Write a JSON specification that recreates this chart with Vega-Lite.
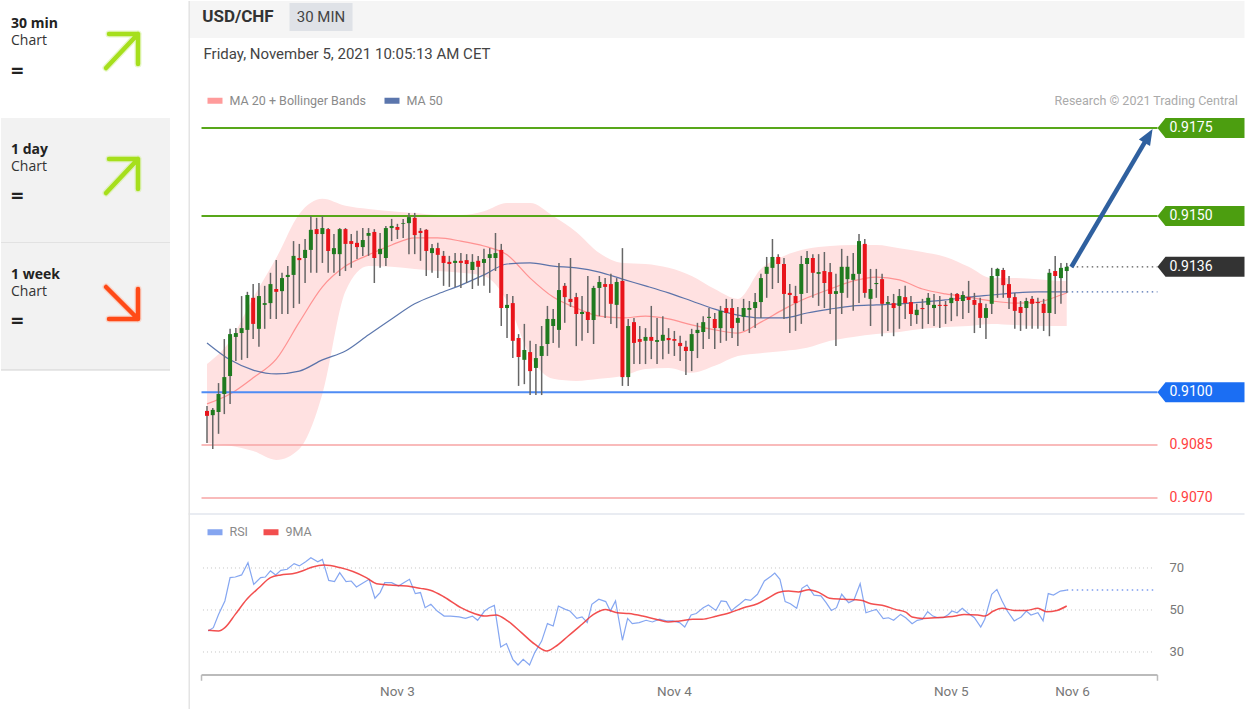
{
"$schema": "https://vega.github.io/schema/vega-lite/v6.json",
"background": "white",
"padding": 0,
"spacing": 16.5,
"bounds": "full",
"config": {"view": {"stroke": null}, "font": "Roboto", "scale": {"continuousPadding": 0}},
"resolve": {"scale": {"color": "independent"}, "legend": {"color": "independent"}},
"datasets": {
"candles": [
{"i":0,"o":0.90947,"h":0.90961,"l":0.90856,"c":0.90933},
{"i":1,"o":0.90935,"h":0.90955,"l":0.90839,"c":0.9095},
{"i":2,"o":0.90944,"h":0.91026,"l":0.90882,"c":0.90995},
{"i":3,"o":0.90995,"h":0.91151,"l":0.90938,"c":0.91043},
{"i":4,"o":0.91046,"h":0.9118,"l":0.90967,"c":0.91165},
{"i":5,"o":0.91157,"h":0.91182,"l":0.91089,"c":0.91168},
{"i":6,"o":0.91168,"h":0.91273,"l":0.91092,"c":0.91182},
{"i":7,"o":0.91177,"h":0.91285,"l":0.91097,"c":0.91276},
{"i":8,"o":0.91268,"h":0.91307,"l":0.91151,"c":0.91194},
{"i":9,"o":0.9118,"h":0.9131,"l":0.91129,"c":0.91273},
{"i":10,"o":0.91248,"h":0.91302,"l":0.9118,"c":0.91253},
{"i":11,"o":0.91253,"h":0.91339,"l":0.91208,"c":0.91307},
{"i":12,"o":0.91293,"h":0.91375,"l":0.91208,"c":0.91285},
{"i":13,"o":0.91287,"h":0.91339,"l":0.91222,"c":0.91324},
{"i":14,"o":0.91327,"h":0.91358,"l":0.91222,"c":0.91333},
{"i":15,"o":0.91333,"h":0.91429,"l":0.91239,"c":0.91387},
{"i":16,"o":0.91381,"h":0.91421,"l":0.91251,"c":0.91375},
{"i":17,"o":0.91381,"h":0.91435,"l":0.9131,"c":0.91404},
{"i":18,"o":0.91404,"h":0.915,"l":0.91339,"c":0.91461},
{"i":19,"o":0.91463,"h":0.91495,"l":0.91339,"c":0.91449},
{"i":20,"o":0.91449,"h":0.915,"l":0.91367,"c":0.91466},
{"i":21,"o":0.91463,"h":0.91466,"l":0.91339,"c":0.91401},
{"i":22,"o":0.91392,"h":0.91449,"l":0.91339,"c":0.91409},
{"i":23,"o":0.91392,"h":0.91466,"l":0.9133,"c":0.91463},
{"i":24,"o":0.91463,"h":0.91466,"l":0.91344,"c":0.91421},
{"i":25,"o":0.91429,"h":0.91449,"l":0.91353,"c":0.91421},
{"i":26,"o":0.91424,"h":0.91458,"l":0.91378,"c":0.91412},
{"i":27,"o":0.91412,"h":0.91466,"l":0.91387,"c":0.91432},
{"i":28,"o":0.91444,"h":0.91466,"l":0.91387,"c":0.91452},
{"i":29,"o":0.91455,"h":0.91463,"l":0.9131,"c":0.91381},
{"i":30,"o":0.91392,"h":0.91452,"l":0.91353,"c":0.91407},
{"i":31,"o":0.91381,"h":0.91472,"l":0.91358,"c":0.91466},
{"i":32,"o":0.91466,"h":0.91492,"l":0.91429,"c":0.91472},
{"i":33,"o":0.91469,"h":0.91478,"l":0.91435,"c":0.91461},
{"i":34,"o":0.91478,"h":0.91492,"l":0.91438,"c":0.9148},
{"i":35,"o":0.9148,"h":0.91509,"l":0.91392,"c":0.91497},
{"i":36,"o":0.91495,"h":0.91509,"l":0.91392,"c":0.91446},
{"i":37,"o":0.91458,"h":0.91466,"l":0.91373,"c":0.91452},
{"i":38,"o":0.91461,"h":0.91463,"l":0.9133,"c":0.91401},
{"i":39,"o":0.91395,"h":0.91421,"l":0.91339,"c":0.91409},
{"i":40,"o":0.91409,"h":0.91424,"l":0.91324,"c":0.9139},
{"i":41,"o":0.91387,"h":0.91401,"l":0.91302,"c":0.91367},
{"i":42,"o":0.9137,"h":0.91387,"l":0.91299,"c":0.91364},
{"i":43,"o":0.91367,"h":0.91395,"l":0.91299,"c":0.91373},
{"i":44,"o":0.91373,"h":0.91395,"l":0.91296,"c":0.91367},
{"i":45,"o":0.91375,"h":0.91392,"l":0.9131,"c":0.91364},
{"i":46,"o":0.91347,"h":0.91392,"l":0.91293,"c":0.9137},
{"i":47,"o":0.91373,"h":0.91387,"l":0.91302,"c":0.91356},
{"i":48,"o":0.91367,"h":0.91407,"l":0.91302,"c":0.91378},
{"i":49,"o":0.91381,"h":0.91409,"l":0.91282,"c":0.91392},
{"i":50,"o":0.91381,"h":0.91452,"l":0.91344,"c":0.91395},
{"i":51,"o":0.91404,"h":0.91421,"l":0.91188,"c":0.91239},
{"i":52,"o":0.91239,"h":0.91279,"l":0.91154,"c":0.91248},
{"i":53,"o":0.91253,"h":0.91273,"l":0.91097,"c":0.91146},
{"i":54,"o":0.91154,"h":0.91165,"l":0.91018,"c":0.911},
{"i":55,"o":0.91092,"h":0.91194,"l":0.91023,"c":0.9112},
{"i":56,"o":0.91114,"h":0.91146,"l":0.90992,"c":0.9106},
{"i":57,"o":0.91069,"h":0.91137,"l":0.90992,"c":0.91097},
{"i":58,"o":0.91103,"h":0.91188,"l":0.90992,"c":0.91131},
{"i":59,"o":0.91137,"h":0.91245,"l":0.91103,"c":0.91208},
{"i":60,"o":0.91188,"h":0.91236,"l":0.9114,"c":0.91208},
{"i":61,"o":0.91177,"h":0.91367,"l":0.91126,"c":0.9129},
{"i":62,"o":0.91302,"h":0.9131,"l":0.91197,"c":0.9127},
{"i":63,"o":0.91265,"h":0.91381,"l":0.91242,"c":0.91256},
{"i":64,"o":0.9127,"h":0.91282,"l":0.91131,"c":0.91222},
{"i":65,"o":0.91222,"h":0.91273,"l":0.91146,"c":0.91228},
{"i":66,"o":0.91228,"h":0.9133,"l":0.91168,"c":0.91205},
{"i":67,"o":0.91205,"h":0.91302,"l":0.91137,"c":0.91296},
{"i":68,"o":0.91296,"h":0.9133,"l":0.91216,"c":0.91313},
{"i":69,"o":0.91307,"h":0.91324,"l":0.91211,"c":0.91299},
{"i":70,"o":0.91307,"h":0.91336,"l":0.91194,"c":0.91251},
{"i":71,"o":0.91248,"h":0.91324,"l":0.91182,"c":0.91313},
{"i":72,"o":0.91316,"h":0.91409,"l":0.91018,"c":0.91043},
{"i":73,"o":0.91043,"h":0.91208,"l":0.91018,"c":0.91188},
{"i":74,"o":0.91199,"h":0.91211,"l":0.9108,"c":0.9114},
{"i":75,"o":0.91151,"h":0.91188,"l":0.9108,"c":0.91143},
{"i":76,"o":0.91146,"h":0.91182,"l":0.9108,"c":0.91157},
{"i":77,"o":0.91157,"h":0.91245,"l":0.91094,"c":0.91146},
{"i":78,"o":0.91143,"h":0.91211,"l":0.9108,"c":0.91148},
{"i":79,"o":0.91146,"h":0.91216,"l":0.91094,"c":0.91163},
{"i":80,"o":0.91154,"h":0.91182,"l":0.91109,"c":0.91148},
{"i":81,"o":0.91151,"h":0.91174,"l":0.91103,"c":0.91146},
{"i":82,"o":0.9114,"h":0.9116,"l":0.91089,"c":0.91131},
{"i":83,"o":0.91129,"h":0.91146,"l":0.91049,"c":0.91117},
{"i":84,"o":0.91117,"h":0.9118,"l":0.9106,"c":0.91165},
{"i":85,"o":0.91168,"h":0.91197,"l":0.91097,"c":0.91177},
{"i":86,"o":0.91171,"h":0.91216,"l":0.91123,"c":0.91199},
{"i":87,"o":0.91211,"h":0.91239,"l":0.91151,"c":0.91214},
{"i":88,"o":0.91208,"h":0.91225,"l":0.91123,"c":0.91182},
{"i":89,"o":0.91182,"h":0.91245,"l":0.9114,"c":0.91231},
{"i":90,"o":0.91239,"h":0.91265,"l":0.91146,"c":0.91225},
{"i":91,"o":0.91239,"h":0.91265,"l":0.91154,"c":0.91182},
{"i":92,"o":0.91197,"h":0.91242,"l":0.91131,"c":0.91211},
{"i":93,"o":0.91214,"h":0.91265,"l":0.91174,"c":0.91239},
{"i":94,"o":0.91234,"h":0.91259,"l":0.91168,"c":0.91239},
{"i":95,"o":0.91239,"h":0.91282,"l":0.91182,"c":0.91256},
{"i":96,"o":0.91256,"h":0.91336,"l":0.91211,"c":0.91324},
{"i":97,"o":0.91336,"h":0.91384,"l":0.91268,"c":0.91356},
{"i":98,"o":0.91353,"h":0.91435,"l":0.91293,"c":0.91384},
{"i":99,"o":0.91384,"h":0.91392,"l":0.9131,"c":0.91364},
{"i":100,"o":0.91364,"h":0.91381,"l":0.91208,"c":0.91279},
{"i":101,"o":0.91282,"h":0.91307,"l":0.91168,"c":0.91276},
{"i":102,"o":0.91273,"h":0.91302,"l":0.91174,"c":0.91253},
{"i":103,"o":0.91279,"h":0.91387,"l":0.91194,"c":0.91364},
{"i":104,"o":0.91364,"h":0.91401,"l":0.91282,"c":0.91381},
{"i":105,"o":0.91381,"h":0.91392,"l":0.91268,"c":0.91339},
{"i":106,"o":0.91336,"h":0.91392,"l":0.91245,"c":0.91341},
{"i":107,"o":0.91344,"h":0.91398,"l":0.91239,"c":0.9131},
{"i":108,"o":0.91341,"h":0.91367,"l":0.91222,"c":0.91279},
{"i":109,"o":0.91279,"h":0.91336,"l":0.91131,"c":0.91287},
{"i":110,"o":0.91282,"h":0.91407,"l":0.91222,"c":0.91356},
{"i":111,"o":0.91321,"h":0.91387,"l":0.91268,"c":0.91356},
{"i":112,"o":0.91319,"h":0.91395,"l":0.91231,"c":0.91336},
{"i":113,"o":0.91336,"h":0.91449,"l":0.91253,"c":0.91429},
{"i":114,"o":0.91421,"h":0.91435,"l":0.91268,"c":0.91282},
{"i":115,"o":0.91265,"h":0.9135,"l":0.91188,"c":0.91293},
{"i":116,"o":0.91307,"h":0.9135,"l":0.91268,"c":0.9131},
{"i":117,"o":0.91321,"h":0.91336,"l":0.91159,"c":0.91251},
{"i":118,"o":0.91251,"h":0.91273,"l":0.91174,"c":0.91256},
{"i":119,"o":0.91253,"h":0.91279,"l":0.91159,"c":0.91239},
{"i":120,"o":0.91245,"h":0.91293,"l":0.9118,"c":0.91273},
{"i":121,"o":0.9127,"h":0.91302,"l":0.91208,"c":0.91253},
{"i":122,"o":0.91256,"h":0.91273,"l":0.91188,"c":0.91222},
{"i":123,"o":0.91219,"h":0.91251,"l":0.91194,"c":0.91234},
{"i":124,"o":0.91239,"h":0.91265,"l":0.9118,"c":0.91236},
{"i":125,"o":0.91248,"h":0.91282,"l":0.91194,"c":0.91268},
{"i":126,"o":0.91239,"h":0.91279,"l":0.91188,"c":0.91248},
{"i":127,"o":0.91248,"h":0.91273,"l":0.91182,"c":0.91245},
{"i":128,"o":0.91248,"h":0.91259,"l":0.91194,"c":0.91245},
{"i":129,"o":0.91253,"h":0.91282,"l":0.91202,"c":0.91268},
{"i":130,"o":0.91279,"h":0.91282,"l":0.91216,"c":0.91259},
{"i":131,"o":0.91259,"h":0.91287,"l":0.91208,"c":0.91276},
{"i":132,"o":0.9127,"h":0.91316,"l":0.91225,"c":0.91262},
{"i":133,"o":0.91262,"h":0.91282,"l":0.91168,"c":0.91248},
{"i":134,"o":0.91253,"h":0.91268,"l":0.91182,"c":0.91211},
{"i":135,"o":0.91211,"h":0.91251,"l":0.91151,"c":0.91239},
{"i":136,"o":0.91251,"h":0.91353,"l":0.91222,"c":0.9133},
{"i":137,"o":0.9133,"h":0.91353,"l":0.91268,"c":0.9135},
{"i":138,"o":0.91347,"h":0.91353,"l":0.91268,"c":0.91304},
{"i":139,"o":0.91307,"h":0.9133,"l":0.91236,"c":0.91268},
{"i":140,"o":0.9127,"h":0.91282,"l":0.9118,"c":0.91231},
{"i":141,"o":0.91242,"h":0.91259,"l":0.91174,"c":0.91225},
{"i":142,"o":0.91239,"h":0.91268,"l":0.9118,"c":0.91259},
{"i":143,"o":0.91265,"h":0.91273,"l":0.9118,"c":0.91251},
{"i":144,"o":0.91256,"h":0.91268,"l":0.9118,"c":0.91253},
{"i":145,"o":0.91251,"h":0.91265,"l":0.91174,"c":0.91225},
{"i":146,"o":0.91225,"h":0.9135,"l":0.91159,"c":0.91339},
{"i":147,"o":0.91344,"h":0.91387,"l":0.91222,"c":0.9133},
{"i":148,"o":0.91324,"h":0.91367,"l":0.91251,"c":0.91353},
{"i":149,"o":0.91344,"h":0.91367,"l":0.91282,"c":0.91356}
],
"ind": [
{"i":0,"ma20":0.90967,"ma50":0.9114,"up":0.9108,"lo":0.90856},
{"i":4,"ma20":0.90995,"ma50":0.91092,"up":0.91146,"lo":0.90848},
{"i":8,"ma20":0.91041,"ma50":0.91063,"up":0.91268,"lo":0.90833},
{"i":12,"ma20":0.91094,"ma50":0.91052,"up":0.91381,"lo":0.90808},
{"i":16,"ma20":0.91199,"ma50":0.9106,"up":0.91506,"lo":0.90839},
{"i":20,"ma20":0.91299,"ma50":0.91092,"up":0.91549,"lo":0.90995},
{"i":24,"ma20":0.91358,"ma50":0.91117,"up":0.91529,"lo":0.91287},
{"i":28,"ma20":0.9139,"ma50":0.91163,"up":0.9152,"lo":0.91358},
{"i":32,"ma20":0.91418,"ma50":0.91208,"up":0.91514,"lo":0.91356},
{"i":36,"ma20":0.91438,"ma50":0.91251,"up":0.91509,"lo":0.9135},
{"i":40,"ma20":0.91438,"ma50":0.91279,"up":0.91503,"lo":0.91344},
{"i":44,"ma20":0.91429,"ma50":0.91304,"up":0.91503,"lo":0.91339},
{"i":48,"ma20":0.91415,"ma50":0.91333,"up":0.91514,"lo":0.9133},
{"i":52,"ma20":0.9139,"ma50":0.91364,"up":0.91537,"lo":0.91259},
{"i":56,"ma20":0.91324,"ma50":0.91367,"up":0.91537,"lo":0.91103},
{"i":60,"ma20":0.9127,"ma50":0.91358,"up":0.915,"lo":0.91038},
{"i":64,"ma20":0.91239,"ma50":0.91353,"up":0.91455,"lo":0.91032},
{"i":68,"ma20":0.91216,"ma50":0.91341,"up":0.91395,"lo":0.91038},
{"i":72,"ma20":0.91211,"ma50":0.91321,"up":0.91367,"lo":0.91046},
{"i":76,"ma20":0.91216,"ma50":0.91302,"up":0.91364,"lo":0.91066},
{"i":80,"ma20":0.91208,"ma50":0.91282,"up":0.91353,"lo":0.91069},
{"i":84,"ma20":0.91191,"ma50":0.91259,"up":0.9133,"lo":0.91055},
{"i":88,"ma20":0.91177,"ma50":0.91236,"up":0.91293,"lo":0.91075},
{"i":92,"ma20":0.91168,"ma50":0.91219,"up":0.91265,"lo":0.91103},
{"i":96,"ma20":0.91199,"ma50":0.91211,"up":0.9135,"lo":0.91111},
{"i":100,"ma20":0.91236,"ma50":0.91211,"up":0.91387,"lo":0.91117},
{"i":104,"ma20":0.91268,"ma50":0.91225,"up":0.91407,"lo":0.91126},
{"i":108,"ma20":0.91293,"ma50":0.91236,"up":0.91415,"lo":0.91146},
{"i":112,"ma20":0.91316,"ma50":0.91245,"up":0.91418,"lo":0.91157},
{"i":116,"ma20":0.91327,"ma50":0.91248,"up":0.91418,"lo":0.91165},
{"i":120,"ma20":0.91319,"ma50":0.91251,"up":0.91409,"lo":0.91171},
{"i":124,"ma20":0.91293,"ma50":0.91256,"up":0.91398,"lo":0.9118},
{"i":128,"ma20":0.91279,"ma50":0.91262,"up":0.91384,"lo":0.91185},
{"i":132,"ma20":0.9127,"ma50":0.9127,"up":0.91356,"lo":0.91188},
{"i":136,"ma20":0.91259,"ma50":0.91276,"up":0.91324,"lo":0.91194},
{"i":140,"ma20":0.91253,"ma50":0.91282,"up":0.91324,"lo":0.91191},
{"i":144,"ma20":0.91256,"ma50":0.91285,"up":0.91321,"lo":0.91188},
{"i":148,"ma20":0.91276,"ma50":0.91285,"up":0.91316,"lo":0.91188},
{"i":149,"ma20":0.91282,"ma50":0.91285,"up":0.91316,"lo":0.91188}
],
"levels": [
{"level":0.9175,"role":"target"},
{"level":0.915,"role":"target"},
{"level":0.91,"role":"pivot"},
{"level":0.9085,"role":"support"},
{"level":0.907,"role":"support"}
],
"forecast": [
{"i":149.8,"p":0.913555},
{"i":163.0,"p":0.917227}
],
"rsi": [
{"i":0.2,"v":40.0},{"i":1.1,"v":41.6},{"i":2.0,"v":47.9},{"i":3.1,"v":54.3},{"i":4.0,"v":65.4},{"i":4.9,"v":65.7},{"i":6.0,"v":66.7},{"i":7.1,"v":72.5},{"i":8.1,"v":62.2},{"i":9.3,"v":65.4},{"i":10.1,"v":65.7},{"i":11.0,"v":68.6},{"i":11.9,"v":66.7},{"i":12.8,"v":68.9},{"i":13.9,"v":69.4},{"i":15.1,"v":72.1},{"i":16.0,"v":71.0},{"i":17.1,"v":73.0},{"i":18.0,"v":74.9},{"i":19.2,"v":73.0},{"i":20.0,"v":74.1},{"i":21.1,"v":64.1},{"i":22.1,"v":63.5},{"i":23.0,"v":67.8},{"i":24.1,"v":63.5},{"i":25.0,"v":63.8},{"i":25.9,"v":61.0},{"i":27.1,"v":63.0},{"i":28.1,"v":64.6},{"i":29.1,"v":55.6},{"i":30.0,"v":58.3},{"i":30.8,"v":63.0},{"i":32.0,"v":63.0},{"i":33.2,"v":61.4},{"i":34.1,"v":63.0},{"i":35.1,"v":64.6},{"i":36.1,"v":57.8},{"i":37.0,"v":58.3},{"i":37.8,"v":51.1},{"i":38.8,"v":52.7},{"i":39.9,"v":49.5},{"i":41.1,"v":47.1},{"i":42.2,"v":47.1},{"i":43.7,"v":46.7},{"i":44.8,"v":46.0},{"i":46.0,"v":47.1},{"i":46.9,"v":45.1},{"i":48.1,"v":49.5},{"i":48.9,"v":51.1},{"i":49.8,"v":52.2},{"i":50.9,"v":32.4},{"i":51.9,"v":34.0},{"i":53.0,"v":26.5},{"i":53.9,"v":23.8},{"i":54.8,"v":26.5},{"i":55.9,"v":23.8},{"i":56.8,"v":29.7},{"i":58.0,"v":35.2},{"i":59.0,"v":43.5},{"i":60.0,"v":42.4},{"i":60.9,"v":51.9},{"i":62.1,"v":50.3},{"i":62.9,"v":49.5},{"i":64.1,"v":46.0},{"i":65.0,"v":46.7},{"i":65.9,"v":44.0},{"i":66.7,"v":52.7},{"i":67.9,"v":55.1},{"i":69.1,"v":54.0},{"i":69.9,"v":49.5},{"i":70.8,"v":54.3},{"i":72.0,"v":35.6},{"i":72.9,"v":46.0},{"i":73.7,"v":43.5},{"i":74.9,"v":44.0},{"i":76.1,"v":45.1},{"i":77.2,"v":44.3},{"i":78.4,"v":45.6},{"i":79.6,"v":44.8},{"i":80.7,"v":44.8},{"i":81.9,"v":44.0},{"i":82.8,"v":41.9},{"i":83.9,"v":47.6},{"i":84.8,"v":48.3},{"i":86.0,"v":51.1},{"i":86.9,"v":52.4},{"i":88.2,"v":49.8},{"i":89.1,"v":54.3},{"i":90.0,"v":54.0},{"i":90.9,"v":49.5},{"i":91.5,"v":51.1},{"i":92.4,"v":53.0},{"i":93.3,"v":55.1},{"i":94.2,"v":54.6},{"i":95.4,"v":57.5},{"i":96.6,"v":63.8},{"i":97.8,"v":66.2},{"i":98.4,"v":67.6},{"i":99.3,"v":64.6},{"i":100.2,"v":54.0},{"i":101.1,"v":53.0},{"i":102.2,"v":50.8},{"i":103.1,"v":60.3},{"i":104.0,"v":61.9},{"i":105.2,"v":57.1},{"i":106.4,"v":56.7},{"i":107.3,"v":53.5},{"i":108.2,"v":49.8},{"i":109.1,"v":51.1},{"i":110.0,"v":57.5},{"i":111.2,"v":53.5},{"i":112.1,"v":54.6},{"i":113.2,"v":62.5},{"i":114.2,"v":48.7},{"i":115.1,"v":49.5},{"i":116.0,"v":50.3},{"i":117.2,"v":45.9},{"i":118.1,"v":46.3},{"i":119.0,"v":45.1},{"i":120.2,"v":47.9},{"i":121.1,"v":46.3},{"i":122.2,"v":43.5},{"i":123.1,"v":45.1},{"i":124.0,"v":45.6},{"i":124.9,"v":49.2},{"i":125.8,"v":47.1},{"i":126.7,"v":46.3},{"i":127.6,"v":46.3},{"i":128.5,"v":47.9},{"i":129.1,"v":49.5},{"i":130.0,"v":48.7},{"i":130.9,"v":50.8},{"i":131.8,"v":48.7},{"i":133.0,"v":46.3},{"i":134.1,"v":41.9},{"i":134.8,"v":45.6},{"i":136.0,"v":57.5},{"i":136.9,"v":59.8},{"i":137.8,"v":54.3},{"i":138.7,"v":49.5},{"i":139.9,"v":44.8},{"i":141.1,"v":46.7},{"i":142.0,"v":49.5},{"i":142.8,"v":47.6},{"i":144.0,"v":48.7},{"i":144.9,"v":44.8},{"i":145.8,"v":57.8},{"i":146.7,"v":57.1},{"i":147.9,"v":59.0},{"i":149,"v":59.5}
],
"ma9": [
{"i":0.2,"v":40.3},{"i":2.0,"v":40.0},{"i":3.1,"v":41.6},{"i":4.9,"v":47.9},{"i":6.9,"v":55.1},{"i":9.0,"v":60.6},{"i":11.0,"v":65.4},{"i":12.8,"v":66.7},{"i":14.8,"v":67.3},{"i":16.5,"v":68.6},{"i":18.3,"v":70.5},{"i":20.3,"v":71.4},{"i":23.0,"v":70.2},{"i":25.3,"v":68.3},{"i":27.6,"v":65.4},{"i":29.4,"v":62.5},{"i":31.7,"v":61.9},{"i":34.6,"v":61.4},{"i":37.0,"v":60.3},{"i":38.7,"v":59.4},{"i":41.1,"v":56.2},{"i":44.0,"v":51.1},{"i":46.3,"v":48.3},{"i":48.1,"v":47.1},{"i":50.1,"v":47.6},{"i":52.1,"v":44.8},{"i":54.5,"v":39.2},{"i":56.8,"v":33.7},{"i":58.9,"v":30.5},{"i":60.3,"v":32.4},{"i":62.6,"v":37.6},{"i":65.0,"v":43.2},{"i":67.0,"v":47.9},{"i":69.1,"v":50.2},{"i":71.1,"v":48.7},{"i":73.1,"v":48.3},{"i":75.5,"v":47.1},{"i":77.8,"v":45.6},{"i":79.9,"v":44.3},{"i":81.9,"v":44.8},{"i":84.2,"v":45.6},{"i":85.8,"v":45.6},{"i":88.2,"v":47.0},{"i":90.6,"v":48.7},{"i":93.0,"v":51.1},{"i":95.4,"v":53.0},{"i":97.2,"v":55.6},{"i":99.0,"v":58.3},{"i":100.8,"v":59.0},{"i":102.5,"v":58.6},{"i":104.3,"v":59.7},{"i":106.1,"v":58.3},{"i":107.9,"v":55.6},{"i":110.3,"v":55.1},{"i":113.3,"v":54.6},{"i":115.1,"v":53.0},{"i":117.5,"v":51.9},{"i":119.3,"v":50.3},{"i":121.1,"v":49.0},{"i":122.2,"v":46.7},{"i":124.0,"v":46.0},{"i":126.4,"v":46.3},{"i":129.7,"v":47.1},{"i":131.2,"v":47.9},{"i":133.6,"v":47.6},{"i":134.8,"v":47.1},{"i":136.3,"v":49.5},{"i":137.8,"v":50.8},{"i":139.9,"v":49.8},{"i":142.0,"v":49.8},{"i":144.0,"v":50.8},{"i":145.5,"v":49.2},{"i":147.3,"v":49.8},{"i":149,"v":51.9}
],
"grid": [{"v":70},{"v":50},{"v":30}],
"days": [{"day":"Nov 3","i":33},{"day":"Nov 4","i":81},{"day":"Nov 5","i":129},{"day":"Nov 6","i":150}]
},
"hconcat": [
{
"vconcat": [
{
"width": 169, "height": 117,
"data": {"values": [{"period": "30 min", "trend": "up"}]},
"layer": [
{"mark": {"type": "text", "align": "left", "baseline": "middle", "dx": -74.5, "dy": -35.5, "font": "Open Sans", "fontWeight": "bold", "fontSize": 14, "fill": "#222"}, "encoding": {"text": {"field": "period"}}},
{"mark": {"type": "text", "align": "left", "baseline": "middle", "dx": -74.5, "dy": -18.5, "font": "Open Sans", "fontSize": 14, "fill": "#333"}, "encoding": {"text": {"value": "Chart"}}},
{"mark": {"type": "text", "align": "left", "baseline": "middle", "dx": -74.5, "dy": 11, "font": "Open Sans", "fontWeight": "bold", "fontSize": 22, "fill": "#222"}, "encoding": {"text": {"value": "="}}},
{"mark": {"type": "point", "filled": false, "shape": "M1.025,0.425L2.625,-1.275M1.175,-1.275L2.625,-1.275L2.625,0.225", "size": 1600, "strokeWidth": 7, "strokeCap": "round", "strokeJoin": "round", "opacity": 0.45}, "encoding": {"color": {"condition": {"test": "datum.trend === 'up'", "value": "#cdee8a"}, "value": "#ffb39a"}}},
{"mark": {"type": "point", "filled": false, "shape": "M1.025,0.425L2.625,-1.275M1.175,-1.275L2.625,-1.275L2.625,0.225", "size": 1600, "strokeWidth": 4.5, "strokeCap": "round", "strokeJoin": "round", "opacity": 1}, "encoding": {"color": {"condition": {"test": "datum.trend === 'up'", "value": "#a6df1c"}, "value": "#ff4a17"}}}
]
},
{
"width": 169, "height": 125,
"view": {"fill": "#f2f2f2"},
"data": {"values": [{"period": "1 day", "trend": "up"}]},
"layer": [
{"mark": {"type": "text", "align": "left", "baseline": "middle", "dx": -74.5, "dy": -31, "font": "Open Sans", "fontWeight": "bold", "fontSize": 14, "fill": "#222"}, "encoding": {"text": {"field": "period"}}},
{"mark": {"type": "text", "align": "left", "baseline": "middle", "dx": -74.5, "dy": -13.8, "font": "Open Sans", "fontSize": 14, "fill": "#333"}, "encoding": {"text": {"value": "Chart"}}},
{"mark": {"type": "text", "align": "left", "baseline": "middle", "dx": -74.5, "dy": 15, "font": "Open Sans", "fontWeight": "bold", "fontSize": 22, "fill": "#222"}, "encoding": {"text": {"value": "="}}},
{"mark": {"type": "point", "filled": false, "shape": "M1.025,0.625L2.625,-1.075M1.175,-1.075L2.625,-1.075L2.625,0.425", "size": 1600, "strokeWidth": 7, "strokeCap": "round", "strokeJoin": "round", "opacity": 0.45}, "encoding": {"color": {"condition": {"test": "datum.trend === 'up'", "value": "#cdee8a"}, "value": "#ffb39a"}}},
{"mark": {"type": "point", "filled": false, "shape": "M1.025,0.625L2.625,-1.075M1.175,-1.075L2.625,-1.075L2.625,0.425", "size": 1600, "strokeWidth": 4.5, "strokeCap": "round", "strokeJoin": "round", "opacity": 1}, "encoding": {"color": {"condition": {"test": "datum.trend === 'up'", "value": "#a6df1c"}, "value": "#ff4a17"}}},
{"mark": {"type": "rule", "stroke": "#d2d2d2", "strokeWidth": 1}, "encoding": {"y": {"datum": 0, "type": "quantitative", "scale": {"domain": [0, 1]}, "axis": null}}}
]
},
{
"width": 169, "height": 127,
"view": {"fill": "#f2f2f2"},
"data": {"values": [{"period": "1 week", "trend": "down"}]},
"layer": [
{"mark": {"type": "text", "align": "left", "baseline": "middle", "dx": -74.5, "dy": -31.5, "font": "Open Sans", "fontWeight": "bold", "fontSize": 14, "fill": "#222"}, "encoding": {"text": {"field": "period"}}},
{"mark": {"type": "text", "align": "left", "baseline": "middle", "dx": -74.5, "dy": -14.5, "font": "Open Sans", "fontSize": 14, "fill": "#333"}, "encoding": {"text": {"value": "Chart"}}},
{"mark": {"type": "text", "align": "left", "baseline": "middle", "dx": -74.5, "dy": 14.5, "font": "Open Sans", "fontWeight": "bold", "fontSize": 22, "fill": "#222"}, "encoding": {"text": {"value": "="}}},
{"mark": {"type": "point", "filled": false, "shape": "M1.025,-0.975L2.625,0.625M1.175,0.625L2.625,0.625M2.625,-0.875L2.625,0.625", "size": 1600, "strokeWidth": 7, "strokeCap": "round", "strokeJoin": "round", "opacity": 0.45}, "encoding": {"color": {"condition": {"test": "datum.trend === 'up'", "value": "#cdee8a"}, "value": "#ffb39a"}}},
{"mark": {"type": "point", "filled": false, "shape": "M1.025,-0.975L2.625,0.625M1.175,0.625L2.625,0.625M2.625,-0.875L2.625,0.625", "size": 1600, "strokeWidth": 4.5, "strokeCap": "round", "strokeJoin": "round", "opacity": 1}, "encoding": {"color": {"condition": {"test": "datum.trend === 'up'", "value": "#a6df1c"}, "value": "#ff4a17"}}},
{"mark": {"type": "rule", "stroke": "#d2d2d2", "strokeWidth": 1}, "encoding": {"y": {"datum": 0, "type": "quantitative", "scale": {"domain": [0, 1]}, "axis": null}}}
]
}
],
"spacing": 0,
"bounds": "flush"
},
{
"vconcat": [
{
"width": 1056, "height": 512,
"data": {"values": [{}]},
"layer": [
{"mark": {"type": "rect", "fill": "#f5f5f5"}, "encoding": {"y": {"datum": 0.921104, "type": "quantitative", "scale": {"domain": [0.906573, 0.921104], "nice": false, "zero": false, "padding": 0}, "axis": null}, "y2": {"datum": 0.920054}}},
{"mark": {"type": "rect", "fill": "#dfe2e7"}, "encoding": {"x": {"datum": 14.3, "type": "quantitative", "scale": {"domain": [-3.206, 179.81], "nice": false, "zero": false, "padding": 0}, "axis": null}, "x2": {"datum": 25.22}, "y": {"datum": 0.921047, "type": "quantitative", "scale": {"domain": [0.906573, 0.921104], "nice": false, "zero": false, "padding": 0}, "axis": null}, "y2": {"datum": 0.920253}}},
{"mark": {"type": "text", "align": "left", "baseline": "middle", "fontWeight": "bold", "fontSize": 17, "fill": "#333"}, "encoding": {"text": {"value": "USD/CHF"}, "x": {"datum": -0.83, "type": "quantitative", "scale": {"domain": [-3.206, 179.81], "nice": false, "zero": false, "padding": 0}, "axis": null}, "y": {"datum": 0.920664, "type": "quantitative", "scale": {"domain": [0.906573, 0.921104], "nice": false, "zero": false, "padding": 0}, "axis": null}}},
{"mark": {"type": "text", "align": "center", "baseline": "middle", "fontSize": 15, "fill": "#444"}, "encoding": {"text": {"value": "30 MIN"}, "x": {"datum": 19.76, "type": "quantitative", "scale": {"domain": [-3.206, 179.81], "nice": false, "zero": false, "padding": 0}, "axis": null}, "y": {"datum": 0.92065, "type": "quantitative", "scale": {"domain": [0.906573, 0.921104], "nice": false, "zero": false, "padding": 0}, "axis": null}}},
{"mark": {"type": "text", "align": "left", "baseline": "middle", "fontSize": 15, "fill": "#444"}, "encoding": {"text": {"value": "Friday, November 5, 2021 10:05:13 AM CET"}, "x": {"datum": -0.61, "type": "quantitative", "scale": {"domain": [-3.206, 179.81], "nice": false, "zero": false, "padding": 0}, "axis": null}, "y": {"datum": 0.919591, "type": "quantitative", "scale": {"domain": [0.906573, 0.921104], "nice": false, "zero": false, "padding": 0}, "axis": null}}},
{"mark": {"type": "text", "align": "right", "baseline": "middle", "fontSize": 12.5, "fill": "#aaaaaa"}, "encoding": {"text": {"value": "Research © 2021 Trading Central"}, "x": {"datum": 178.65, "type": "quantitative", "scale": {"domain": [-3.206, 179.81], "nice": false, "zero": false, "padding": 0}, "axis": null}, "y": {"datum": 0.918266, "type": "quantitative", "scale": {"domain": [0.906573, 0.921104], "nice": false, "zero": false, "padding": 0}, "axis": null}}},
{"data": {"name": "ind"}, "mark": {"type": "area", "fill": "#ffe1e1", "interpolate": "monotone"}, "encoding": {"x": {"field": "i", "type": "quantitative", "scale": {"domain": [-3.206, 179.81], "nice": false, "zero": false, "padding": 0}, "axis": null}, "y": {"field": "up", "type": "quantitative", "scale": {"domain": [0.906573, 0.921104], "nice": false, "zero": false, "padding": 0}, "axis": null}, "y2": {"field": "lo"}}},
{"data": {"name": "ind"}, "mark": {"type": "line", "strokeWidth": 1.2, "interpolate": "monotone", "opacity": 0.9}, "encoding": {"x": {"field": "i", "type": "quantitative", "scale": {"domain": [-3.206, 179.81], "nice": false, "zero": false, "padding": 0}, "axis": null}, "y": {"field": "ma20", "type": "quantitative", "scale": {"domain": [0.906573, 0.921104], "nice": false, "zero": false, "padding": 0}, "axis": null}, "color": {"datum": "MA 20 + Bollinger Bands", "scale": {"domain": ["MA 20 + Bollinger Bands", "MA 50"], "range": ["#ff8a8a", "#3f5f9f"]}, "legend": {"title": null, "orient": "none", "legendX": 16, "legendY": 89, "direction": "horizontal", "symbolType": "stroke", "symbolSize": 225, "symbolStrokeWidth": 6, "symbolOpacity": 1, "labelFontSize": 12.5, "labelColor": "#8a8a8a", "labelFont": "Roboto", "labelOffset": 4, "columnPadding": 6, "padding": 0}}}},
{"data": {"name": "ind"}, "mark": {"type": "line", "strokeWidth": 1.2, "interpolate": "monotone", "opacity": 0.85}, "encoding": {"x": {"field": "i", "type": "quantitative", "scale": {"domain": [-3.206, 179.81], "nice": false, "zero": false, "padding": 0}, "axis": null}, "y": {"field": "ma50", "type": "quantitative", "scale": {"domain": [0.906573, 0.921104], "nice": false, "zero": false, "padding": 0}, "axis": null}, "color": {"datum": "MA 50"}}},
{"data": {"name": "levels"}, "mark": {"type": "rule"}, "encoding": {"x": {"datum": -0.95, "type": "quantitative", "scale": {"domain": [-3.206, 179.81], "nice": false, "zero": false, "padding": 0}, "axis": null}, "x2": {"datum": 164.73}, "y": {"field": "level", "type": "quantitative", "scale": {"domain": [0.906573, 0.921104], "nice": false, "zero": false, "padding": 0}, "axis": null}, "stroke": {"condition": [{"test": "datum.role === 'target'", "value": "#58a71a"}, {"test": "datum.role === 'pivot'", "value": "#4f8cf4"}], "value": "#f7a5a5"}, "strokeWidth": {"condition": {"test": "datum.role === 'support'", "value": 1.5}, "value": 2}}},
{"data": {"name": "candles"}, "transform": [{"filter": "datum.i == 149"}], "mark": {"type": "rule", "stroke": "#555", "strokeWidth": 1.3, "strokeDash": [1.5, 3.5]}, "encoding": {"x": {"field": "i", "type": "quantitative", "scale": {"domain": [-3.206, 179.81], "nice": false, "zero": false, "padding": 0}, "axis": null}, "x2": {"datum": 164.73}, "y": {"field": "c", "type": "quantitative", "scale": {"domain": [0.906573, 0.921104], "nice": false, "zero": false, "padding": 0}, "axis": null}}},
{"data": {"name": "ind"}, "transform": [{"filter": "datum.i == 149"}], "mark": {"type": "rule", "stroke": "#4f6fb0", "strokeWidth": 1.3, "strokeDash": [1.5, 3.5]}, "encoding": {"x": {"field": "i", "type": "quantitative", "scale": {"domain": [-3.206, 179.81], "nice": false, "zero": false, "padding": 0}, "axis": null}, "x2": {"datum": 164.73}, "y": {"field": "ma50", "type": "quantitative", "scale": {"domain": [0.906573, 0.921104], "nice": false, "zero": false, "padding": 0}, "axis": null}}},
{"data": {"name": "candles"}, "mark": {"type": "rule", "stroke": "#666", "strokeWidth": 1.5}, "encoding": {"x": {"field": "i", "type": "quantitative", "scale": {"domain": [-3.206, 179.81], "nice": false, "zero": false, "padding": 0}, "axis": null}, "y": {"field": "l", "type": "quantitative", "scale": {"domain": [0.906573, 0.921104], "nice": false, "zero": false, "padding": 0}, "axis": null}, "y2": {"field": "h"}}},
{"data": {"name": "candles"}, "mark": {"type": "bar", "size": 4}, "encoding": {"x": {"field": "i", "type": "quantitative", "scale": {"domain": [-3.206, 179.81], "nice": false, "zero": false, "padding": 0}, "axis": null}, "y": {"field": "o", "type": "quantitative", "scale": {"domain": [0.906573, 0.921104], "nice": false, "zero": false, "padding": 0}, "axis": null}, "y2": {"field": "c"}, "fill": {"condition": {"test": "datum.c >= datum.o", "value": "#1f7a1f"}, "value": "#e8141b"}}},
{"data": {"name": "forecast"}, "mark": {"type": "line", "stroke": "#2f609f", "strokeWidth": 4.5, "strokeCap": "butt"}, "encoding": {"x": {"field": "i", "type": "quantitative", "scale": {"domain": [-3.206, 179.81], "nice": false, "zero": false, "padding": 0}, "axis": null}, "y": {"field": "p", "type": "quantitative", "scale": {"domain": [0.906573, 0.921104], "nice": false, "zero": false, "padding": 0}, "axis": null}}},
{"data": {"name": "forecast"}, "transform": [{"filter": "datum.i > 160"}], "mark": {"type": "point", "filled": true, "shape": "M0,-1L0.65,0.6L-0.65,0.6Z", "size": 400, "angle": 30.5, "opacity": 1, "fill": "#2f609f", "strokeWidth": 0}, "encoding": {"x": {"field": "i", "type": "quantitative", "scale": {"domain": [-3.206, 179.81], "nice": false, "zero": false, "padding": 0}, "axis": null}, "y": {"field": "p", "type": "quantitative", "scale": {"domain": [0.906573, 0.921104], "nice": false, "zero": false, "padding": 0}, "axis": null}}},
{"data": {"name": "levels"}, "transform": [{"filter": "datum.role !== 'support'"}], "mark": {"type": "point", "filled": true, "shape": "M-1,0L-0.818,-0.227L0.977,-0.227L0.977,0.227L-0.818,0.227Z", "size": 7744, "opacity": 1, "strokeWidth": 0}, "encoding": {"x": {"datum": 172.36, "type": "quantitative", "scale": {"domain": [-3.206, 179.81], "nice": false, "zero": false, "padding": 0}, "axis": null}, "y": {"field": "level", "type": "quantitative", "scale": {"domain": [0.906573, 0.921104], "nice": false, "zero": false, "padding": 0}, "axis": null}, "fill": {"condition": {"test": "datum.role === 'target'", "value": "#4c9e10"}, "value": "#1b6ef3"}}},
{"data": {"name": "candles"}, "transform": [{"filter": "datum.i == 149"}], "mark": {"type": "point", "filled": true, "shape": "M-1,0L-0.818,-0.227L0.977,-0.227L0.977,0.227L-0.818,0.227Z", "size": 7744, "opacity": 1, "strokeWidth": 0, "fill": "#333333"}, "encoding": {"x": {"datum": 172.36, "type": "quantitative", "scale": {"domain": [-3.206, 179.81], "nice": false, "zero": false, "padding": 0}, "axis": null}, "y": {"field": "c", "type": "quantitative", "scale": {"domain": [0.906573, 0.921104], "nice": false, "zero": false, "padding": 0}, "axis": null}}},
{"data": {"name": "levels"}, "mark": {"type": "text", "align": "left", "baseline": "middle", "fontSize": 14}, "encoding": {"x": {"datum": 166.81, "type": "quantitative", "scale": {"domain": [-3.206, 179.81], "nice": false, "zero": false, "padding": 0}, "axis": null}, "y": {"field": "level", "type": "quantitative", "scale": {"domain": [0.906573, 0.921104], "nice": false, "zero": false, "padding": 0}, "axis": null}, "text": {"field": "level", "format": ".4f"}, "fill": {"condition": {"test": "datum.role === 'support'", "value": "#ff3e3e"}, "value": "#ffffff"}}},
{"data": {"name": "candles"}, "transform": [{"filter": "datum.i == 149"}], "mark": {"type": "text", "align": "left", "baseline": "middle", "fontSize": 14, "fill": "#ffffff"}, "encoding": {"x": {"datum": 166.81, "type": "quantitative", "scale": {"domain": [-3.206, 179.81], "nice": false, "zero": false, "padding": 0}, "axis": null}, "y": {"field": "c", "type": "quantitative", "scale": {"domain": [0.906573, 0.921104], "nice": false, "zero": false, "padding": 0}, "axis": null}, "text": {"field": "c", "format": ".4f"}}},
{"mark": {"type": "rule", "stroke": "#e4e4e4", "strokeWidth": 1.5}, "encoding": {"x": {"datum": -3.08, "type": "quantitative", "scale": {"domain": [-3.206, 179.81], "nice": false, "zero": false, "padding": 0}, "axis": null}}}
]
},
{
"width": 1056, "height": 197,
"data": {"values": [{}]},
"layer": [
{"mark": {"type": "rule", "stroke": "#e9ecf2", "strokeWidth": 2}, "encoding": {"y": {"datum": 95.7, "type": "quantitative", "scale": {"domain": [2.38, 96.19], "nice": false, "zero": false, "padding": 0}, "axis": null}}},
{"mark": {"type": "rule", "stroke": "#e4e4e4", "strokeWidth": 1.5}, "encoding": {"x": {"datum": -3.08, "type": "quantitative", "scale": {"domain": [-3.206, 179.81], "nice": false, "zero": false, "padding": 0}, "axis": null}}},
{"data": {"name": "grid"}, "mark": {"type": "rule", "stroke": "#c4c4c4", "strokeWidth": 1, "strokeDash": [1, 3]}, "encoding": {"x": {"datum": -0.7, "type": "quantitative", "scale": {"domain": [-3.206, 179.81], "nice": false, "zero": false, "padding": 0}, "axis": null}, "x2": {"datum": 164.0}, "y": {"field": "v", "type": "quantitative", "scale": {"domain": [2.38, 96.19], "nice": false, "zero": false, "padding": 0}, "axis": null}}},
{"data": {"name": "grid"}, "mark": {"type": "text", "align": "left", "baseline": "middle", "fontSize": 13, "fill": "#777"}, "encoding": {"x": {"datum": 166.81, "type": "quantitative", "scale": {"domain": [-3.206, 179.81], "nice": false, "zero": false, "padding": 0}, "axis": null}, "y": {"field": "v", "type": "quantitative", "scale": {"domain": [2.38, 96.19], "nice": false, "zero": false, "padding": 0}, "axis": null}, "text": {"field": "v"}}},
{"data": {"name": "rsi"}, "mark": {"type": "line", "strokeWidth": 1.2, "opacity": 0.85}, "encoding": {"x": {"field": "i", "type": "quantitative", "scale": {"domain": [-3.206, 179.81], "nice": false, "zero": false, "padding": 0}, "axis": null}, "y": {"field": "v", "type": "quantitative", "scale": {"domain": [2.38, 96.19], "nice": false, "zero": false, "padding": 0}, "axis": null}, "color": {"datum": "RSI", "scale": {"domain": ["RSI", "9MA"], "range": ["#7096ee", "#f03030"]}, "legend": {"title": null, "orient": "none", "legendX": 16, "legendY": 8.5, "direction": "horizontal", "symbolType": "stroke", "symbolSize": 225, "symbolStrokeWidth": 6, "symbolOpacity": 1, "labelFontSize": 12.5, "labelColor": "#8a8a8a", "labelFont": "Roboto", "labelOffset": 4, "columnPadding": 3, "padding": 0}}}},
{"data": {"name": "ma9"}, "mark": {"type": "line", "strokeWidth": 1.5, "interpolate": "monotone", "opacity": 0.85}, "encoding": {"x": {"field": "i", "type": "quantitative", "scale": {"domain": [-3.206, 179.81], "nice": false, "zero": false, "padding": 0}, "axis": null}, "y": {"field": "v", "type": "quantitative", "scale": {"domain": [2.38, 96.19], "nice": false, "zero": false, "padding": 0}, "axis": null}, "color": {"datum": "9MA"}}},
{"data": {"name": "rsi"}, "transform": [{"filter": "datum.i == 149"}], "mark": {"type": "rule", "stroke": "#7d9df0", "strokeWidth": 1.5, "strokeDash": [1.5, 3.5]}, "encoding": {"x": {"field": "i", "type": "quantitative", "scale": {"domain": [-3.206, 179.81], "nice": false, "zero": false, "padding": 0}, "axis": null}, "x2": {"datum": 164.0}, "y": {"field": "v", "type": "quantitative", "scale": {"domain": [2.38, 96.19], "nice": false, "zero": false, "padding": 0}, "axis": null}}},
{"mark": {"type": "rule", "stroke": "#bbbbbb", "strokeWidth": 2}, "encoding": {"x": {"datum": -0.95, "type": "quantitative", "scale": {"domain": [-3.206, 179.81], "nice": false, "zero": false, "padding": 0}, "axis": null}, "x2": {"datum": 164.73}, "y": {"datum": 19.05, "type": "quantitative", "scale": {"domain": [2.38, 96.19], "nice": false, "zero": false, "padding": 0}, "axis": null}}},
{"mark": {"type": "rule", "stroke": "#bbbbbb", "strokeWidth": 1.5}, "encoding": {"x": {"datum": -0.95, "type": "quantitative", "scale": {"domain": [-3.206, 179.81], "nice": false, "zero": false, "padding": 0}, "axis": null}, "y": {"datum": 19.05, "type": "quantitative", "scale": {"domain": [2.38, 96.19], "nice": false, "zero": false, "padding": 0}, "axis": null}, "y2": {"datum": 16.3}}},
{"mark": {"type": "rule", "stroke": "#bbbbbb", "strokeWidth": 1.5}, "encoding": {"x": {"datum": 164.73, "type": "quantitative", "scale": {"domain": [-3.206, 179.81], "nice": false, "zero": false, "padding": 0}, "axis": null}, "y": {"datum": 19.05, "type": "quantitative", "scale": {"domain": [2.38, 96.19], "nice": false, "zero": false, "padding": 0}, "axis": null}, "y2": {"datum": 16.3}}},
{"data": {"name": "days"}, "mark": {"type": "text", "align": "center", "baseline": "middle", "fontSize": 13.5, "fill": "#777"}, "encoding": {"x": {"field": "i", "type": "quantitative", "scale": {"domain": [-3.206, 179.81], "nice": false, "zero": false, "padding": 0}, "axis": null}, "y": {"datum": 10.95, "type": "quantitative", "scale": {"domain": [2.38, 96.19], "nice": false, "zero": false, "padding": 0}, "axis": null}, "text": {"field": "day"}}}
]
}
],
"spacing": 0,
"bounds": "flush",
"resolve": {"scale": {"color": "independent"}, "legend": {"color": "independent"}}
}
]
}
